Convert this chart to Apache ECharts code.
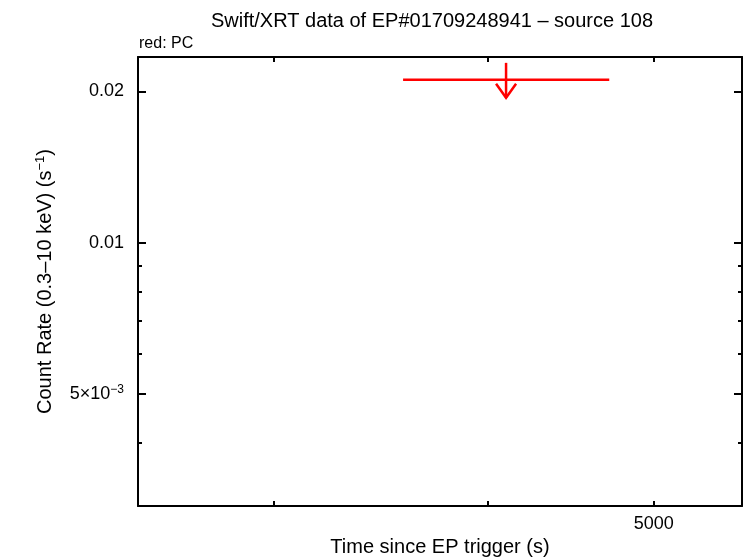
<!DOCTYPE html>
<html>
<head>
<meta charset="utf-8">
<script src="https://cdn.jsdelivr.net/npm/echarts@6/dist/echarts.min.js"></script>
<style>
html,body{margin:0;padding:0;background:#fff;}
#chart{width:746px;height:558px;}
</style>
</head>
<body>
<div id="chart"></div>
<script>
// Data (upper limit, PC mode)
const timeMid = [4100];
const timeLow = [3570];
const timeHigh = [4710];
const rateUL = [0.0211];

// Axis ticks
const xTicks = [3000, 4000, 5000];
const xLabels = [5000];
const yMajorTicks = [0.02, 0.01, 0.005];
const yMinorTicks = [0.009, 0.008, 0.007, 0.006, 0.004, 0.003];
const yLabels = [0.02, 0.01, 0.005];

const FONT = '"Liberation Sans", Helvetica, Arial, sans-serif';
const chart = echarts.init(document.getElementById('chart'), null, {renderer: 'canvas'});

const seriesData = timeMid.map((t, i) => [t, timeLow[i], timeHigh[i], rateUL[i]]);

function yFmt(v) {
  if (Math.abs(v - 0.005) < 1e-9) return '5×10{sup|−3}';
  if (Math.abs(v - 0.01) < 1e-9) return '0.01';
  if (Math.abs(v - 0.02) < 1e-9) return '0.02';
  return '';
}

const xRange = {min: 2500, max: 5630};
const yRange = {min: 0.00299, max: 0.02343};
const lineStyle = {color: '#000', width: 2};

function xAxis(pos, showLabel) {
  return Object.assign({
    type: 'log', position: pos, logBase: 10,
    splitLine: {show: false},
    axisLine: {show: true, onZero: false, lineStyle: lineStyle},
    axisTick: {show: true, inside: true, length: 5, customValues: xTicks, lineStyle: {color: '#000', width: 2}},
    axisLabel: showLabel ? {show: true, customValues: xLabels, color: '#000', fontFamily: FONT, fontSize: 18, margin: 9,
      formatter: function (v) { return String(Math.round(v)); }} : {show: false},
  }, xRange);
}

function yAxis(pos, ticks, len, showLabel, showLine) {
  return Object.assign({
    type: 'log', position: pos, logBase: 10,
    splitLine: {show: false},
    axisLine: {show: showLine, onZero: false, lineStyle: lineStyle},
    axisTick: {show: true, inside: true, length: len, customValues: ticks, lineStyle: {color: '#000', width: 2}},
    axisLabel: showLabel ? {
      show: true, customValues: yLabels, color: '#000', fontFamily: FONT, fontSize: 18, margin: 14,
      formatter: yFmt,
      rich: {sup: {fontSize: 12, verticalAlign: 'top', padding: [0, 0, 9, 0], fontFamily: FONT, color: '#000'}}
    } : {show: false},
  }, yRange);
}

const option = {
  animation: false,
  backgroundColor: '#fff',
  title: [{
    text: 'Swift/XRT data of EP#01709248941 – source 108',
    left: 427, top: 6, textAlign: 'center',
    textStyle: {fontFamily: FONT, fontSize: 20, fontWeight: 'normal', color: '#000'}
  }, {
    text: 'red: PC',
    left: 134, top: 31,
    textStyle: {fontFamily: FONT, fontSize: 16, fontWeight: 'normal', color: '#000'}
  }],
  grid: {left: 138, right: 4, top: 57, bottom: 52, containLabel: false, outerBoundsMode: 'none'},
  xAxis: [
    Object.assign(xAxis('bottom', true), {
      name: 'Time since EP trigger (s)', nameLocation: 'middle', nameGap: 29,
      nameTextStyle: {fontFamily: FONT, fontSize: 20, color: '#000'}
    }),
    xAxis('top', false)
  ],
  yAxis: [
    Object.assign(yAxis('left', yMajorTicks, 8, true, true), {
      name: 'Count Rate (0.3–10 keV) (s{sup|−1})', nameLocation: 'middle', nameGap: 82, nameRotate: 90,
      nameTextStyle: {fontFamily: FONT, fontSize: 20, color: '#000',
        rich: {sup: {fontSize: 13, fontFamily: FONT, color: '#000', verticalAlign: 'top', padding: [0, 0, 9, 0]}}}
    }),
    yAxis('left', yMinorTicks, 4, false, false),
    yAxis('right', yMajorTicks, 8, false, true),
    yAxis('right', yMinorTicks, 4, false, false)
  ],
  series: [{
    type: 'custom',
    xAxisIndex: 0, yAxisIndex: 0,
    data: seriesData,
    clip: false,
    renderItem: function (params, api) {
      const c = api.coord([api.value(0), api.value(3)]);
      const l = api.coord([api.value(1), api.value(3)]);
      const r = api.coord([api.value(2), api.value(3)]);
      const st = {stroke: '#ff0000', lineWidth: 2.5, fill: null};
      return {
        type: 'group',
        children: [
          {type: 'line', shape: {x1: l[0], y1: l[1], x2: r[0], y2: r[1]}, style: st},
          {type: 'line', shape: {x1: c[0], y1: c[1] - 17, x2: c[0], y2: c[1] + 18}, style: st},
          {type: 'polyline', shape: {points: [[c[0] - 10, c[1] + 4], [c[0], c[1] + 18], [c[0] + 10, c[1] + 4]]}, style: st}
        ]
      };
    }
  }]
};
chart.setOption(option);
</script>
</body>
</html>
